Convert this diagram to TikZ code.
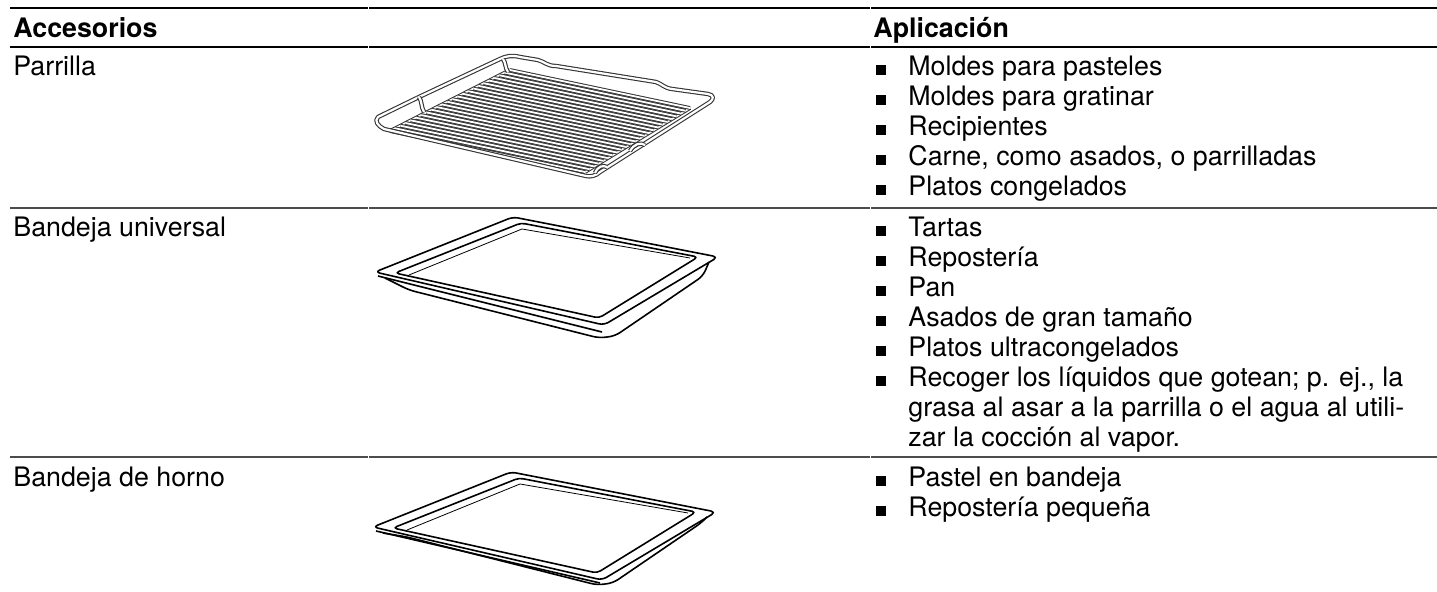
\documentclass[tikz,border=0pt]{standalone}
\usepackage{fontspec}
\setmainfont{TeX Gyre Heros}
\usetikzlibrary{calc}

\newcommand{\bul}{\makebox[16pt][l]{\raisebox{0.5pt}{\rule{5pt}{5pt}}}}
\newcommand{\itm}[1]{\hbox{\bul#1}}
\newcommand{\cnt}[1]{\hbox{\hspace*{16pt}#1}}

\tikzset{
  txt/.style={anchor=base west, inner sep=0pt, font=\fontsize{13.4}{15}\selectfont},
  head/.style={txt, font=\fontsize{13.4}{15}\selectfont\bfseries},
  rule/.style={line width=1pt},
  wire/.style={draw=black!80, double=white, double distance=0.9pt, line width=0.5pt},
  rim/.style={draw=black!80, double=white, double distance=1.1pt, line width=0.55pt, line join=round},
  trayline/.style={line width=0.8pt, line join=round},
  pics/tray/.style={code={
    % flange, outer edge
    \draw[trayline, rounded corners=2.5] (0,0) -- (138,-55) -- (343,-15) -- (229,53) -- cycle;
    % flange, inner edge
    \draw[trayline, rounded corners=2] (20,1) -- (146,-49) -- (323,-15) -- (224,46) -- cycle;
    % inner wall
    \draw[line width=0.4pt] (34,3) -- (147,-43) -- (315,-14);
    % rim edge and body
    \draw[trayline] (3,4) -- (227,{56+#1/2});
    \draw[trayline, rounded corners=3] (10,6) -- (34,{10+#1}) -- (224,{58+#1}) -- (240,{56+#1}) -- (328,{-4+#1}) -- (334,-10);
  }}
}

\begin{document}
\begin{tikzpicture}[x=0.5pt,y=0.5pt,yscale=-1,xscale=1]
    \useasboundingbox (0,0) rectangle (1437,592);

    %Straight Lines: table rules
    \foreach \y/\c in {8/black, 47/black, 208/black!70, 457/black!70}
      \foreach \a/\b in {10/368, 369/870, 871/1437}
        \draw[rule, draw=\c] (\a,\y) -- (\b,\y);

    % Text Node: header
    \draw (13,38) node [head] (hacc) {Accesorios};
    \draw (873,38) node [head] (happ) {Aplicación};

    % Text Node: accessories
    \draw (13,76) node [txt] (acc1) {Parrilla};
    \draw (13,237) node [txt] (acc2) {Bandeja universal};
    \draw (13,487) node [txt] (acc3) {Bandeja de horno};

    % Text Node: uses
    \draw (876,76) node [txt] (app1) {\vtop{%
      \itm{Moldes para pasteles}
      \itm{Moldes para gratinar}
      \itm{Recipientes}
      \itm{Carne, como asados, o parrilladas}
      \itm{Platos congelados}}};
    \draw (876,237) node [txt] (app2) {\vtop{%
      \itm{Tartas}
      \itm{Repostería}
      \itm{Pan}
      \itm{Asados de gran tamaño}
      \itm{Platos ultracongelados}
      \itm{Recoger los líquidos que gotean; p. ej., la}
      \cnt{grasa al asar a la parrilla o el agua al utili-}
      \cnt{zar la cocción al vapor.}}};
    \draw (876,487) node [txt] (app3) {\vtop{%
      \itm{Pastel en bandeja}
      \itm{Repostería pequeña}}};

    %Shape: wire rack
    \coordinate (gl) at (390,131);
    \coordinate (gb) at (510,70);
    \coordinate (gr) at (690,108);
    \coordinate (gf) at (585,172);
    \foreach \t in {0,0.5,1}
      \draw[wire] ($(gl)!\t!(gf)$) -- ($(gb)!\t!(gr)$);
    \foreach \i [evaluate=\i as \t using \i/23] in {0,...,23}
      \draw[wire] ($(gl)!\t!(gb)$) -- ($(gf)!\t!(gr)$);
    \draw[rim] (384,129) .. controls (378,126) and (374,121) .. (378,117) -- (419,97) -- (500,59) .. controls (506,56) and (512,55) .. (520,57) -- (538,60) .. controls (545,62) and (547,66) .. (556,66) -- (656,82) .. controls (662,84) and (664,88) .. (672,89) -- (708,94) .. controls (714,95) and (714,99) .. (710,102) -- (600,172) .. controls (596,176) and (590,177) .. (586,176) -- cycle;
    \draw[rim] (419,97) .. controls (422,101) and (421,107) .. (424,112);
    \draw[rim] (503,59) .. controls (506,63) and (505,68) .. (508,72);
    \draw[rim] (630,151) .. controls (634,144) and (640,142) .. (645,145);
    \draw[rim] (595,173) .. controls (598,166) and (603,165) .. (607,167);

    %Shape: trays
    \pic[transform shape] at (375,272) {tray=8};
    \pic[transform shape] at (373,527) {tray=0};

\end{tikzpicture}
\end{document}
